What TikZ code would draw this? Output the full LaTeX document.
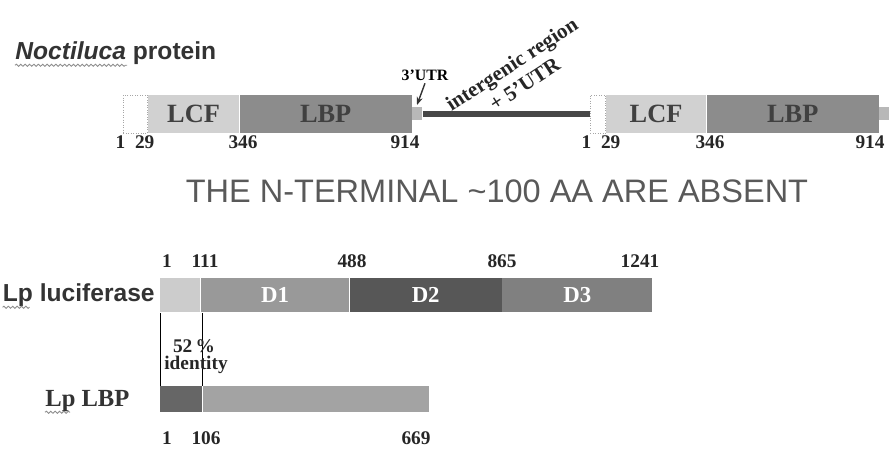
\documentclass[tikz,border=0pt]{standalone}
\usepackage{fontspec}
\setmainfont{Liberation Serif}
\setsansfont{Liberation Sans}
\usetikzlibrary{arrows.meta,positioning,decorations.pathmorphing}
\tikzset{
  seg/.style={rectangle,anchor=west,inner sep=0pt,minimum height=0.76cm,font=\bfseries\fontsize{15}{15}\selectfont,text=black!75},
  dom/.style={rectangle,anchor=west,inner sep=0pt,minimum height=0.7cm,font=\bfseries\fontsize{13}{13}\selectfont,text=white},
  utr/.style={rectangle,inner sep=0pt,minimum width=0.2cm,minimum height=0.26cm,fill=black!28},
  num/.style={anchor=base,inner sep=0pt,font=\bfseries\fontsize{11}{11}\selectfont,text=black!85},
  title/.style={inner sep=0pt,font=\sffamily\bfseries\fontsize{14}{14}\selectfont,text=black!80},
  spacer/.style={line width=0.12cm,draw=black!72},
  pointer/.style={-{Stealth[length=1.6mm]},thick,black!80},
  tick/.style={thin,black},
  squiggle/.style={black!45,line width=0.5pt,decorate,decoration={snake,amplitude=0.6pt,segment length=2.5pt}}
}
\begin{document}
\begin{tikzpicture}[x=0.02cm,y=-0.02cm]
\useasboundingbox (0,0) rectangle (893,452);
\node[title,anchor=base west] (noct) at (15,60) {\textit{Noctiluca} protein};
\draw[squiggle] ([yshift=-3pt]noct.base west) -- ++(112,0);
\node[seg,minimum width=0.48cm,fill=white,draw=black!35,densely dotted] (blank1) at (123,114) {};
\node[seg,minimum width=1.82cm,fill=black!18,right=0pt of blank1] (lcf1) {LCF};
\node[seg,minimum width=3.44cm,fill=black!45,right=0pt of lcf1] (lbp1) {LBP};
\node[utr,right=0pt of lbp1] (utr1) {};
\node[seg,minimum width=0.3cm,fill=white,draw=black!35,densely dotted] (blank2) at (590,114) {};
\node[seg,minimum width=2cm,fill=black!18,right=0pt of blank2] (lcf2) {LCF};
\node[seg,minimum width=3.44cm,fill=black!45,right=0pt of lcf2] (lbp2) {LBP};
\node[utr,right=0pt of lbp2] (utr2) {};
\draw[spacer] (utr1.east) -- (blank2.west);
\node[inner sep=1pt,anchor=base,font=\bfseries\fontsize{9}{9}\selectfont] (utrlab) at (425,81) {3'UTR};
\coordinate (utrtip) at (417,105);
\draw[pointer] (utrlab.south) -- (utrtip);
\node[rotate=33,align=center,font=\bfseries\fontsize{12}{13.5}\selectfont,text=black!85] (igr) at (518,74) {intergenic region\\+ 5'UTR};
\node[num] (a1) at (135,149) {1\enspace 29};
\node[num] (a346) at (243,149) {346};
\node[num] (a914) at (405,149) {914};
\node[num] (b1) at (601,149) {1\enspace 29};
\node[num] (b346) at (710,149) {346};
\node[num] (b914) at (870,149) {914};
\node[anchor=base,inner sep=0pt,font=\sffamily\fontsize{18.5}{18.5}\selectfont,text=black!65] (absent) at (497,203) {THE N-TERMINAL \textasciitilde 100 AA ARE ABSENT};
\node[title,anchor=base east] (luclab) at (155,302) {Lp luciferase};
\draw[squiggle] ([yshift=-3pt]luclab.base west) -- ++(27,0);
\node[dom,minimum width=0.8cm,fill=black!20] (luc0) at (160,295) {};
\node[dom,minimum width=2.96cm,fill=black!40,right=0pt of luc0] (d1) {D1};
\node[dom,minimum width=3.04cm,fill=black!66,right=0pt of d1] (d2) {D2};
\node[dom,minimum width=3cm,fill=black!50,right=0pt of d2] (d3) {D3};
\node[num] (c1) at (167,268) {1};
\node[num] (c111) at (205,268) {111};
\node[num] (c488) at (352,268) {488};
\node[num] (c865) at (502,268) {865};
\node[num] (c1241) at (640,268) {1241};
\node[anchor=base west,inner sep=0pt,font=\bfseries\fontsize{14}{14}\selectfont,text=black!80] (lbplab) at (45,407) {Lp LBP};
\draw[squiggle] ([yshift=-3pt]lbplab.base west) -- ++(25,0);
\node[dom,minimum height=0.52cm,minimum width=0.84cm,fill=black!60] (lbp0) at (160,399) {};
\node[dom,minimum height=0.52cm,minimum width=4.52cm,fill=black!36,right=0pt of lbp0] (lbpb) {};
\draw[tick] (luc0.south west) -- (lbp0.north west);
\draw[tick] (lbpb.north west) -- (lbpb.north west |- luc0.south);
\node[num] (pct) at (194,353) {52\,\%};
\node[num] (ident) at (196,370) {identity};
\node[num] (e1) at (167,445) {1};
\node[num] (e106) at (206,445) {106};
\node[num] (e669) at (416,445) {669};
\end{tikzpicture}
\end{document}
